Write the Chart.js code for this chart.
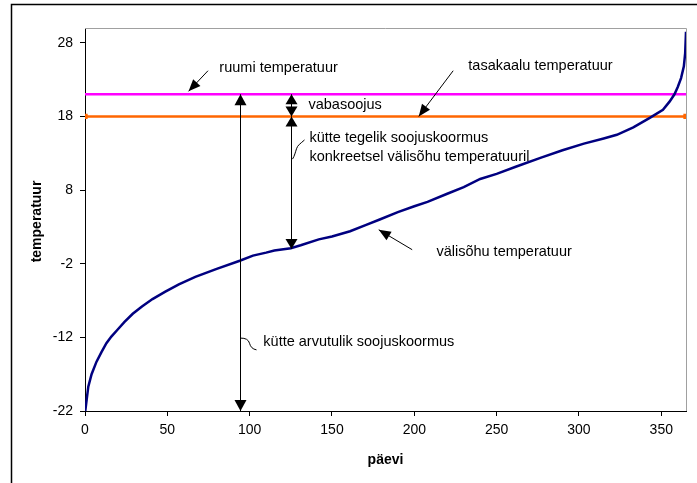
<!DOCTYPE html>
<html lang="et">

<head>
    <meta charset="UTF-8">
    <script src="https://cdn.jsdelivr.net/npm/chart.js"></script>
    <title>Temperatuur</title>
    <style>
        body { margin: 0; background: #fff; }
        #wrap { width: 697px; height: 483px; }
    </style>
</head>

<body>
    <div id="wrap">
        <canvas id="graafik" width="697" height="483"></canvas>
    </div>
</body>
<script>

    // päevad (sorteeritud) ja välisõhu temperatuur
    var paevad = [0, 1, 2, 4, 7, 10, 13, 16, 20, 24, 29, 34.6, 41, 48.8, 57, 67, 80, 94, 102, 110, 115, 125,
        131, 142, 150, 161, 170, 179, 190, 200, 208, 220, 230, 240, 250, 262, 277, 290, 303, 315, 323,
        333, 343, 351, 355, 358, 360, 362, 363.7, 364.5, 365];
    var valisohk = [-22.3, -20.5, -18.7, -17, -15.3, -14, -12.8, -11.9, -10.9, -9.9, -8.8, -7.8, -6.8, -5.8, -4.8, -3.8, -2.7, -1.6, -0.9, -0.5, -0.2, 0.1,
        0.5, 1.3, 1.7, 2.4, 3.2, 4.0, 5.0, 5.8, 6.4, 7.5, 8.4, 9.5, 10.2, 11.2, 12.4, 13.4, 14.3, 15.0, 15.5,
        16.5, 17.8, 18.9, 20.0, 21.0, 22.0, 23.2, 24.8, 26.6, 29.5];
    var ruumiTemp = 21;
    var tasakaaluTemp = 18;
    var xTikid = [0, 50, 100, 150, 200, 250, 300, 350];
    var yTikid = [-22, -12, -2, 8, 18, 28];

    var arvutusPaev = 94.4;
    var tegelikPaev = 125;
    var tegelikTemp = 0;

    Chart.defaults.font.family = '"Liberation Sans", Arial, sans-serif';
    Chart.defaults.font.size = 14;
    Chart.defaults.color = '#000';

    // nooleots
    function nooleots(ctx, x1, y1, x2, y2, pikkus, laius) {
        var a = Math.atan2(y2 - y1, x2 - x1);
        ctx.beginPath();
        ctx.moveTo(x2, y2);
        ctx.lineTo(x2 - pikkus * Math.cos(a) + laius * Math.sin(a), y2 - pikkus * Math.sin(a) - laius * Math.cos(a));
        ctx.lineTo(x2 - pikkus * Math.cos(a) - laius * Math.sin(a), y2 - pikkus * Math.sin(a) + laius * Math.cos(a));
        ctx.closePath();
        ctx.fill();
    }

    function nool(ctx, x1, y1, x2, y2, kaks, pikkus, laius) {
        ctx.beginPath();
        ctx.moveTo(x1, y1);
        ctx.lineTo(x2, y2);
        ctx.stroke();
        nooleots(ctx, x1, y1, x2, y2, pikkus, laius);
        if (kaks) nooleots(ctx, x2, y2, x1, y1, pikkus, laius);
    }

    var tekstid = [
        { t: 'ruumi temperatuur', x: 81.6, y: 24.6 },
        { t: 'tasakaalu temperatuur', x: 232.8, y: 24.9 },
        { t: 'vabasoojus', x: 135.7, y: 19.5 },
        { t: 'kütte tegelik soojuskoormus', x: 136.3, y: 15.1 },
        { t: 'konkreetsel välisõhu temperatuuril', x: 136.3, y: 12.5 },
        { t: 'välisõhu temperatuur', x: 213.4, y: -0.4 },
        { t: 'kütte arvutulik soojuskoormus', x: 108.3, y: -12.6 }
    ];
    var viited = [
        [74.7, 24.2, 62.9, 21.4],
        [223.6, 24.2, 202.7, 18.0],
        [198.7, -0.1, 178.4, 2.6]
    ];

    var joonised = {
        id: 'joonised',
        afterDatasetsDraw: function (chart) {
            var ctx = chart.ctx;
            var xs = chart.scales.x, ys = chart.scales.y;
            var ca = chart.chartArea;
            var px = function (v) { return xs.getPixelForValue(v); };
            var py = function (v) { return ys.getPixelForValue(v); };
            ctx.save();

            // joonise ala hall raam ülal ja paremal
            ctx.strokeStyle = '#a0a0a0';
            ctx.lineWidth = 1;
            ctx.beginPath();
            ctx.moveTo(ca.left, ca.top + 0.5);
            ctx.lineTo(ca.right + 0.5, ca.top + 0.5);
            ctx.lineTo(ca.right + 0.5, ca.bottom);
            ctx.stroke();

            // välimine raam
            ctx.strokeStyle = '#000';
            ctx.lineWidth = 1.5;
            ctx.beginPath();
            ctx.moveTo(11.5, 483);
            ctx.lineTo(11.5, 4.5);
            ctx.lineTo(697, 4.5);
            ctx.stroke();

            ctx.fillStyle = '#000';
            ctx.strokeStyle = '#000';
            ctx.lineWidth = 1;

            // vertikaalsed nooled
            var xa = Math.round(px(arvutusPaev)) + 0.5;
            nool(ctx, xa, py(ruumiTemp), xa, py(-22), true, 11, 6);
            var xt = Math.round(px(tegelikPaev)) + 0.5;
            nool(ctx, xt, py(ruumiTemp), xt, py(tasakaaluTemp), true, 10, 6);
            nool(ctx, xt, py(tasakaaluTemp), xt, py(tegelikTemp), true, 10, 6);

            // viitenooled
            viited.forEach(function (v) {
                nool(ctx, px(v[0]), py(v[1]), px(v[2]), py(v[3]), false, 12, 5);
            });

            // käänulised viited
            ctx.beginPath();
            ctx.moveTo(xa, py(-12.1));
            ctx.bezierCurveTo(xa + 5, py(-12.1), xa + 8, py(-12.3), xa + 9, py(-12.8));
            ctx.bezierCurveTo(xa + 10, py(-13.3), xa + 12, py(-13.6), xa + 16, py(-13.7));
            ctx.stroke();
            ctx.beginPath();
            ctx.moveTo(xt + 1, py(12.2));
            ctx.bezierCurveTo(xt + 3, py(12.6), xt + 4, py(13.2), xt + 5, py(13.6));
            ctx.bezierCurveTo(xt + 6, py(14.1), xt + 9, py(14.3), xt + 13, py(14.8));
            ctx.stroke();

            // tekstid
            ctx.font = '14.5px "Liberation Sans", Arial, sans-serif';
            ctx.textBaseline = 'middle';
            ctx.textAlign = 'left';
            tekstid.forEach(function (t) {
                ctx.fillText(t.t, px(t.x), py(t.y));
            });

            // telgede pealkirjad
            ctx.font = 'bold 14px "Liberation Sans", Arial, sans-serif';
            ctx.textAlign = 'center';
            ctx.fillText('päevi', (ca.left + ca.right) / 2, ca.bottom + 49);
            ctx.translate(37, (ca.top + ca.bottom) / 2 + 2);
            ctx.rotate(-Math.PI / 2);
            ctx.fillText('temperatuur', 0, 0);
            ctx.restore();
        }
    };

    var punktid = [];
    for (var i = 0; i < paevad.length; i++) {
        punktid.push({ x: paevad[i], y: valisohk[i] });
    }

    new Chart(document.getElementById('graafik'), {
        type: 'line',
        data: {
            datasets: [
                {
                    label: 'välisõhu temperatuur',
                    data: punktid,
                    borderColor: '#000080',
                    borderWidth: 2.5,
                    pointRadius: 0,
                    tension: 0
                },
                {
                    label: 'ruumi temperatuur',
                    data: [{ x: 0, y: ruumiTemp }, { x: 365, y: ruumiTemp }],
                    borderColor: '#ff00ff',
                    borderWidth: 2.5,
                    pointRadius: 0
                },
                {
                    label: 'tasakaalu temperatuur',
                    data: [{ x: 0, y: tasakaaluTemp }, { x: 365, y: tasakaaluTemp }],
                    borderColor: '#ff6600',
                    backgroundColor: '#ff6600',
                    borderWidth: 2.5,
                    pointStyle: 'rect',
                    pointRadius: 2
                }
            ]
        },
        options: {
            responsive: false,
            animation: false,
            layout: { padding: { top: 28, right: 11, left: 0, bottom: 0 } },
            plugins: { legend: { display: false }, tooltip: { enabled: false } },
            scales: {
                x: {
                    type: 'linear',
                    min: 0,
                    max: 365,
                    afterBuildTicks: function (s) { s.ticks = xTikid.map(function (v) { return { value: v }; }); },
                    afterFit: function (s) { s.height = 72; },
                    ticks: { padding: 6, maxRotation: 0, color: '#000' },
                    grid: { drawOnChartArea: false, tickLength: 5, color: '#000' },
                    border: { color: '#000', width: 1 }
                },
                y: {
                    min: -22,
                    max: 30,
                    afterBuildTicks: function (s) { s.ticks = yTikid.map(function (v) { return { value: v }; }); },
                    afterFit: function (s) { s.width = 85; },
                    ticks: { padding: 7, color: '#000' },
                    grid: { drawOnChartArea: false, tickLength: 5, color: '#000' },
                    border: { color: '#000', width: 1 }
                }
            }
        },
        plugins: [joonised]
    });

</script>

</html>
